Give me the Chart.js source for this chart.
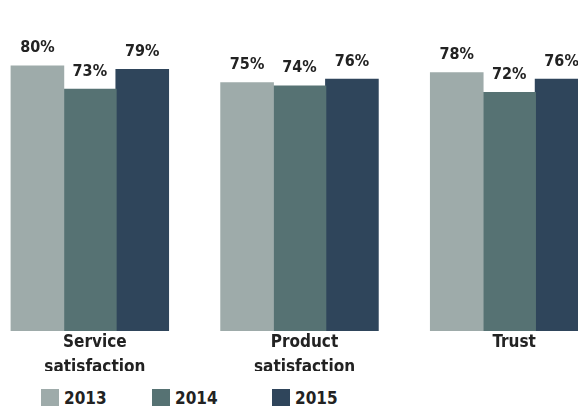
<!DOCTYPE html>
<html>
<head>
<meta charset="utf-8">
<script src="https://cdn.jsdelivr.net/npm/chart.js@4"></script>
<style>
  html, body { margin: 0; padding: 0; background: #fff; }
  #wrap { position: relative; width: 578px; height: 406px; overflow: hidden; }
  #box { position: absolute; left: -15px; top: 0; width: 629px; height: 376px; }
  #legend { position: absolute; top: 389px; left: 0; width: 578px; height: 18px;
            font: bold 17px "DejaVu Sans Condensed", sans-serif; color: #222; }
  .item { position: absolute; top: 0; height: 18px; }
  .sw { position: absolute; left: 0; top: 0; width: 18px; height: 18px; }
  .lb { position: absolute; left: 23px; top: 0px; line-height: 18px; white-space: nowrap; }
</style>
</head>
<body>
<div id="wrap">
  <div id="box"><canvas id="graph"></canvas></div>
  <div id="legend"></div>
</div>
<script>
var categories = [['Service', 'satisfaction'], ['Product', 'satisfaction'], ['Trust']];
var years = ['2013', '2014', '2015'];
var values2013 = [80, 75, 78];
var values2014 = [73, 74, 72];
var values2015 = [79, 76, 76];
var colors = ['#9eabaa', '#567273', '#2f455b'];
var fontFam = '"DejaVu Sans Condensed", sans-serif';

// legend (html, so it can sit exactly where the original one is)
var legendX = [41, 152, 272];
var lg = document.getElementById('legend');
years.forEach(function(y, i) {
    var it = document.createElement('div');
    it.className = 'item';
    it.style.left = legendX[i] + 'px';
    it.innerHTML = '<div class="sw" style="background:' + colors[i] + '"></div><div class="lb">' + y + '</div>';
    lg.appendChild(it);
});

var valueLabels = {
    id: 'valueLabels',
    afterDatasetsDraw: function(chart) {
        var c = chart.ctx;
        c.save();
        c.font = 'bold 16px ' + fontFam;
        c.fillStyle = '#222';
        c.textAlign = 'center';
        c.textBaseline = 'bottom';
        chart.data.datasets.forEach(function(ds, i) {
            chart.getDatasetMeta(i).data.forEach(function(bar, j) {
                c.fillText(ds.data[j] + '%', bar.x, bar.y - 10);
            });
        });
        c.restore();
    }
};

var ctx = document.getElementById('graph');
var myChart = new Chart(ctx, {
    type: 'bar',
    data: {
        labels: categories,
        datasets: [
            { label: years[0], data: values2013, backgroundColor: colors[0] },
            { label: years[1], data: values2014, backgroundColor: colors[1] },
            { label: years[2], data: values2015, backgroundColor: colors[2] }
        ]
    },
    options: {
        responsive: true,
        maintainAspectRatio: false,
        animation: false,
        categoryPercentage: 0.75,
        barPercentage: 1,
        inflateAmount: 0.6,
        layout: { padding: { bottom: 5 } },
        plugins: {
            legend: { display: false },
            tooltip: { enabled: false }
        },
        scales: {
            x: {
                grid: { display: false },
                border: { display: false },
                ticks: {
                    color: '#222',
                    padding: -9,
                    labelOffset: 5,
                    maxRotation: 0,
                    autoSkip: false,
                    font: { family: fontFam, size: 17, weight: 'bold', lineHeight: '25px' }
                }
            },
            y: {
                display: false,
                min: 0,
                max: 100
            }
        }
    },
    plugins: [valueLabels]
});
</script>
</body>
</html>
